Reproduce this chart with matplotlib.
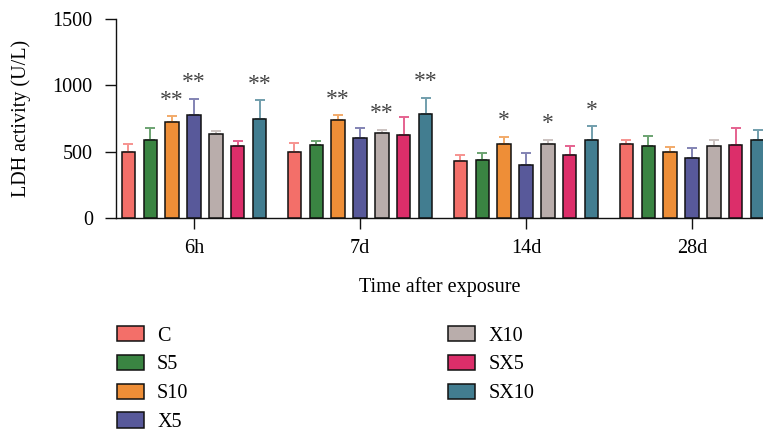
import numpy as np
import matplotlib
matplotlib.use("Agg")
import matplotlib.pyplot as plt
from matplotlib.patches import Patch
from matplotlib.colors import to_rgb

plt.rcParams['font.family'] = ['Liberation Serif', 'DejaVu Serif']

# Time points and treatment groups
timepoints = ["6h", "7d", "14d", "28d"]
groups = ["C", "S5", "S10", "X5", "X10", "SX5", "SX10"]

# Mean LDH activity (U/L) per treatment group, listed per time point
ldh_6h = [496, 586, 727, 775, 636, 546, 745]
ldh_7d = [495, 548, 736, 601, 638, 623, 784]
ldh_14d = [430, 437, 560, 400, 558, 477, 590]
ldh_28d = [560, 545, 495, 455, 540, 550, 586]

# Standard deviations (upper error bars)
sd_6h = [65, 91, 40, 125, 23, 37, 143]
sd_7d = [68, 35, 38, 80, 28, 141, 121]
sd_14d = [47, 55, 53, 90, 32, 68, 101]
sd_28d = [30, 75, 40, 73, 45, 131, 80]

# Significance marks: (time point index, group index) -> label
significance = {
    (0, 2): "**", (0, 3): "**", (0, 6): "**",
    (1, 2): "**", (1, 4): "**", (1, 6): "**",
    (2, 2): "*", (2, 4): "*", (2, 6): "*",
}

colors = ["#F36F69", "#3A8442", "#EE8E37", "#58599A", "#B9ADAB", "#DC2E6A", "#427D90"]

means = np.array([ldh_6h, ldh_7d, ldh_14d, ldh_28d])
sds = np.array([sd_6h, sd_7d, sd_14d, sd_28d])

FS = 14.5


def lighten(c, amt=0.25):
    r, g, b = to_rgb(c)
    return (r + (1 - r) * amt, g + (1 - g) * amt, b + (1 - b) * amt)


fig = plt.figure(figsize=(7.63, 4.34), dpi=100)
ax = fig.add_axes([0.1517, 0.4977, 1 - 0.1517, 0.9562 - 0.4977])

x = np.arange(len(timepoints))
step = 0.132
width = 0.080

for j, (g, c) in enumerate(zip(groups, colors)):
    xs = x + (j - 3) * step
    ax.errorbar(xs, means[:, j], yerr=[np.zeros(len(x)), sds[:, j]],
                fmt='none', ecolor=lighten(c), elinewidth=1.4,
                capsize=3.3, capthick=1.4, zorder=2)
    ax.bar(xs, means[:, j], width=width, color=c, edgecolor="#111111",
           linewidth=1.1, zorder=3)

for (ti, gi), lab in significance.items():
    xi = x[ti] + (gi - 3) * step
    top = means[ti, gi] + sds[ti, gi]
    ax.annotate(lab, (xi, top), xytext=(0, 4), textcoords='offset points',
                ha='center', va='bottom', fontsize=17, color="#444444")

ax.set_xlim(-0.4717, 3.428)
ax.set_ylim(0, 1500)
ax.set_yticks([0, 500, 1000, 1500])
ax.set_xticks(x)
ax.set_xticklabels(timepoints)
ax.tick_params(axis='both', labelsize=FS, length=8, width=1.0, color="#111111")
ax.tick_params(axis='x', pad=7)
ax.tick_params(axis='y', pad=8.5)
for s in ['top', 'right']:
    ax.spines[s].set_visible(False)
for s in ['left', 'bottom']:
    ax.spines[s].set_linewidth(1.0)
    ax.spines[s].set_color("#111111")

ax.set_ylabel("LDH activity (U/L)", fontsize=FS, labelpad=15.5)
ax.set_xlabel("Time after exposure", fontsize=FS, labelpad=14)

handles = [Patch(facecolor=c, edgecolor="#111111", linewidth=1.1, label=g)
           for g, c in zip(groups, colors)]
fig.legend(handles=handles, ncol=2, loc='upper left',
           bbox_to_anchor=(117 / 763, 1 - 326 / 434), frameon=False,
           fontsize=FS, handlelength=1.34, handleheight=0.8,
           handletextpad=0.65, columnspacing=12.9, labelspacing=0.45,
           borderpad=0, borderaxespad=0)

fig.savefig("out.png", dpi=100)
